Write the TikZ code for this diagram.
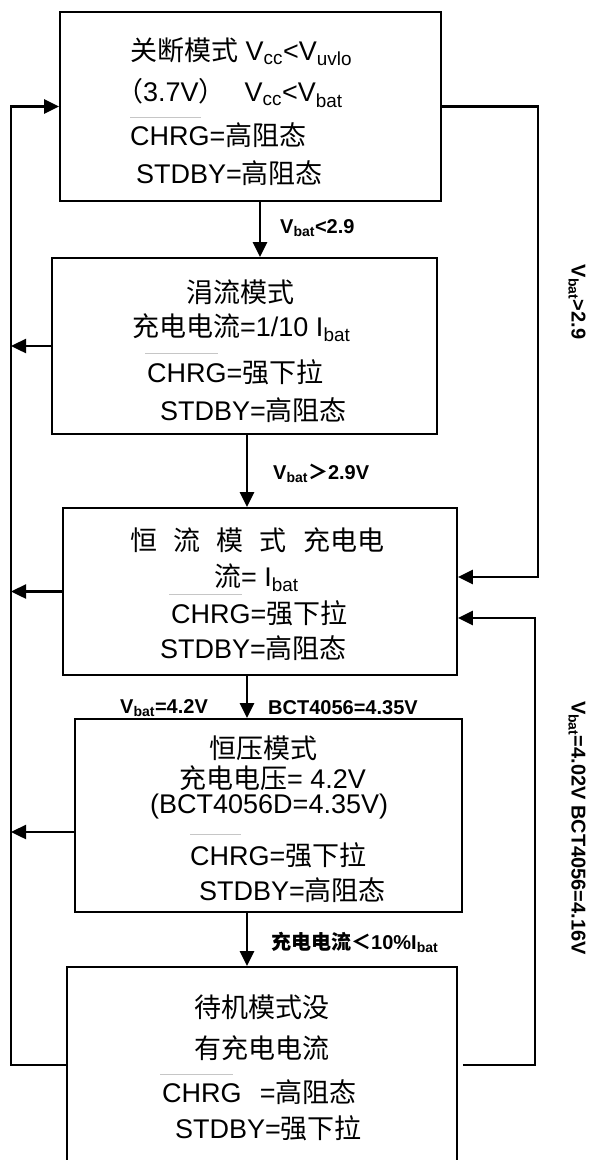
\documentclass[tikz,border=0pt]{standalone}
\usepackage{fontspec}
\setmainfont{Liberation Sans}
\newfontfamily\cjk{Noto Sans CJK SC}
\usetikzlibrary{arrows.meta}
\newcommand\zh[1]{{\cjk #1}}
\newcommand\sbt[1]{\textsubscript{#1}}
\begin{document}
\begin{tikzpicture}[x=1pt,y=-1pt,
  box/.style={draw, line width=1.8pt, rectangle, inner sep=0pt},
  txt/.style={anchor=west, inner sep=0pt, font=\fontsize{27}{32}\selectfont},
  lbl/.style={anchor=west, inner sep=0pt, font=\fontsize{20}{24}\selectfont\bfseries},
  rlbl/.style={inner sep=0pt, rotate=-90, font=\fontsize{20}{24}\selectfont\bfseries},
  wire/.style={line width=2.4pt},
  arr/.style={wire, -{Triangle[length=15pt,width=14pt]}},
  ovl/.style={gray!45, line width=0.9pt}]
\useasboundingbox (0,0) rectangle (589,1160);
\clip (0,0) rectangle (589,1160);
\fill[white] (0,0) rectangle (589,1160);

% boxes
\node[box, minimum width=381pt, minimum height=189pt] (b1) at (250.5,106.5) {};
\node[box, minimum width=385pt, minimum height=176pt] (b2) at (244.5,346) {};
\node[box, minimum width=394pt, minimum height=167pt] (b3) at (260,591.5) {};
\node[box, minimum width=387pt, minimum height=193pt] (b4) at (268.5,815.5) {};
\node[box, minimum width=390pt, minimum height=220pt] (b5) at (262,1077) {};

% box 1 text
\node[txt] (t11) at (130,52) {\zh{关断模式} V\sbt{cc}<V\sbt{uvlo}};
\node[txt] (t12) at (116,93) {\zh{（}3.7V\zh{）}\hspace{0.7em}V\sbt{cc}<V\sbt{bat}};
\draw[ovl] (130,117) -- (201,117);
\node[txt] (t13) at (130,135) {CHRG=\zh{高阻态}};
\node[txt] (t14) at (136,173) {STDBY=\zh{高阻态}};

% box 2 text
\node[txt] (t21) at (186,292) {\zh{涓流模式}};
\node[txt] (t22) at (132,328) {\zh{充电电流}=1/10 I\sbt{bat}};
\draw[ovl] (145,353) -- (218,353);
\node[txt] (t23) at (147,372) {CHRG=\zh{强下拉}};
\node[txt] (t24) at (160,410) {STDBY=\zh{高阻态}};

% box 3 text
\node[txt] (t31) at (130,540) {\zh{恒\hspace{0.6em}流\hspace{0.6em}模\hspace{0.6em}式\hspace{0.6em}充电电}};
\node[txt] (t32) at (214,578) {\zh{流}= I\sbt{bat}};
\draw[ovl] (169,594) -- (242,594);
\node[txt] (t33) at (171,613) {CHRG=\zh{强下拉}};
\node[txt] (t34) at (160,648) {STDBY=\zh{高阻态}};

% box 4 text
\node[txt] (t41) at (209,748) {\zh{恒压模式}};
\node[txt] (t42) at (179,778) {\zh{充电电压}= 4.2V};
\node[txt] (t43) at (150,807) {(BCT4056D=4.35V)};
\draw[ovl] (190,834) -- (241,834);
\node[txt] (t44) at (190,855) {CHRG=\zh{强下拉}};
\node[txt] (t45) at (199,890) {STDBY=\zh{高阻态}};

% box 5 text
\node[txt] (t51) at (194,1007) {\zh{待机模式没}};
\node[txt] (t52) at (194,1048) {\zh{有充电电流}};
\draw[ovl] (160,1074) -- (233,1074);
\node[txt] (t53) at (162,1092) {CHRG\hspace{0.4em} =\zh{高阻态}};
\node[txt] (t54) at (175,1128) {STDBY=\zh{强下拉}};

% helper coordinates
\coordinate (xl) at (11,0);
\coordinate (xr1) at (538,0);
\coordinate (xr2) at (535,0);
\coordinate (xa1) at (260,0);
\coordinate (xa2) at (247,0);
\coordinate (y4) at (0,832);
\coordinate (y5) at (0,1065);
\coordinate (yr1) at (0,577);
\coordinate (yr2) at (0,618);

% vertical arrows
\draw[arr] (xa1 |- b1.south) -- (xa1 |- b2.north);
\draw[arr] (xa2 |- b2.south) -- (xa2 |- b3.north);
\draw[arr] (xa2 |- b3.south) -- (xa2 |- b4.north);
\draw[arr] (xa2 |- b4.south) -- (xa2 |- b5.north);

% left loop
\draw[arr] (b5.west |- y5) -- (xl |- y5) -- (xl |- b1.west) -- (b1.west);
\draw[arr] (b2.west) -- (xl |- b2.west);
\draw[arr] (b3.west) -- (xl |- b3.west);
\draw[arr] (b4.west |- y4) -- (xl |- y4);

% right loops
\draw[arr] (b1.east) -- (xr1 |- b1.east) -- (xr1 |- yr1) -- (b3.east |- yr1);
\draw[arr, shorten <=5pt] (b5.east |- y5) -- (xr2 |- y5) -- (xr2 |- yr2) -- (b3.east |- yr2);

% labels
\node[lbl] (l1) at (280,228) {V\sbt{bat}<2.9};
\node[lbl] (l2) at (273,473) {V\sbt{bat}\zh{＞}2.9V};
\node[lbl] (l3) at (120,708) {V\sbt{bat}=4.2V};
\node[lbl] (l4) at (268,708) {BCT4056=4.35V};
\node[lbl] (l5) at (271,942) {\zh{充电电流＜}10\%I\sbt{bat}};
\node[rlbl] (l6) at (577,302) {V\sbt{bat}>2.9};
\node[rlbl] (l7) at (577,828) {V\sbt{bat}=4.02V BCT4056=4.16V};
\end{tikzpicture}
\end{document}
